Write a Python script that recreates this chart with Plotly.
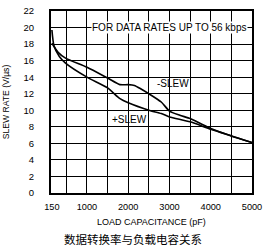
import plotly.graph_objects as go

# Data
cap_plus = [150, 200, 330, 480, 1000, 1500, 1800, 2000, 2500, 2800, 3000, 3500, 4000, 4500, 5000]
slew_plus = [19.7, 17.8, 16.5, 15.7, 14.0, 12.7, 11.4, 10.9, 10.0, 9.6, 9.2, 8.6, 7.7, 6.9, 6.1]

cap_minus = [150, 300, 480, 1000, 1500, 1800, 2000, 2150, 2300, 2500, 2800, 3000, 3250, 3500, 3750, 4000, 4500, 5000]
slew_minus = [18.1, 17.0, 16.3, 15.2, 13.9, 13.1, 13.1, 13.0, 12.6, 12.0, 11.0, 9.9, 9.4, 9.0, 8.4, 7.8, 6.9, 6.1]

x_ticks = [150, 1000, 2000, 3000, 4000, 5000]
x_minor = [500, 1500, 2500, 3500, 4500]
y_ticks = list(range(0, 23, 2))

FONT = "Liberation Sans Narrow, Arial Narrow, Liberation Sans, Arial, sans-serif"

fig = go.Figure()
fig.add_trace(go.Scatter(x=cap_minus, y=slew_minus, mode="lines", line=dict(color="black", width=1.6, shape="spline", smoothing=0.6), showlegend=False))
fig.add_trace(go.Scatter(x=cap_plus, y=slew_plus, mode="lines", line=dict(color="black", width=1.6, shape="spline", smoothing=0.6), showlegend=False))

fig.add_annotation(x=3080, y=13.2, text="-SLEW", showarrow=False, font=dict(family=FONT, size=10, color="black"))
fig.add_annotation(x=2025, y=8.9, text="+SLEW", showarrow=False, font=dict(family=FONT, size=10, color="black"))
fig.add_annotation(x=3010, y=20, text="FOR DATA RATES UP TO 56 kbps", showarrow=False,
                   bgcolor="white", borderpad=0,
                   font=dict(family=FONT, size=10, color="black"))

fig.add_annotation(xref="paper", yref="paper", x=0.5, y=-0.16, yanchor="middle", text="LOAD CAPACITANCE (pF)", showarrow=False,
                   font=dict(family=FONT, size=9, color="black"))
fig.add_annotation(xref="paper", yref="paper", x=0.41, y=-0.255, text="数据转换率与负载电容关系", showarrow=False,
                   yanchor="middle", font=dict(family="Noto Sans CJK SC", size=11.5, color="black"))

fig.update_xaxes(range=[128, 5000], tickmode="array", tickvals=x_ticks, ticktext=[str(v) for v in x_ticks],
                 showgrid=True, gridcolor="black", gridwidth=1.2,
                 minor=dict(tickmode="array", tickvals=x_minor, showgrid=True, gridcolor="black", gridwidth=1.2),
                 showline=True, linecolor="black", linewidth=2, mirror=True, zeroline=False,
                 ticks="", ticklabelstandoff=4, automargin=False,
                 tickfont=dict(family=FONT, size=9.2, color="black"))
fig.update_yaxes(range=[0, 22], tickmode="array", tickvals=y_ticks,
                 showgrid=True, gridcolor="black", gridwidth=1.2,
                 showline=True, linecolor="black", linewidth=2, mirror=True, zeroline=False,
                 ticks="", ticklabelstandoff=13, automargin=False,
                 title=dict(text="SLEW RATE (V/µs)", standoff=13, font=dict(family=FONT, size=8.6, color="black")),
                 tickfont=dict(family=FONT, size=9.5, color="black"))

fig.update_layout(width=271, height=252, margin=dict(l=51, r=19, t=11, b=59),
                  paper_bgcolor="white", plot_bgcolor="white", showlegend=False)

fig.write_html("out.html")
